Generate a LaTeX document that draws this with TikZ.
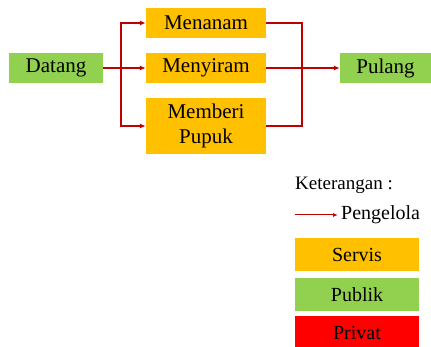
\documentclass[tikz,border=0pt]{standalone}
\usepackage{fontspec}
\setmainfont{Liberation Serif}
\usetikzlibrary{arrows.meta}

\begin{document}
\begin{tikzpicture}[x=1pt,y=-1pt]
  % Colors
  \definecolor{serviscolor}{HTML}{FFC000}
  \definecolor{publikcolor}{HTML}{92D050}
  \definecolor{privatcolor}{HTML}{FF0000}
  \definecolor{flowcolor}{HTML}{C00000}

  % Styles
  \tikzstyle{box}=[inner sep=0pt,align=center,font=\fontsize{21}{25}\selectfont]
  \tikzstyle{servis}=[box,fill=serviscolor,minimum width=120pt,minimum height=30pt]
  \tikzstyle{publik}=[box,fill=publikcolor,minimum height=30pt]
  \tikzstyle{legend box}=[inner sep=0pt,minimum width=124pt,minimum height=33pt,font=\fontsize{20}{22}\selectfont]
  \tikzstyle{flow}=[draw=flowcolor,line width=1.3pt]
  \tikzstyle{flow arrow}=[flow,-{Latex[length=6pt,width=5pt]}]

  \useasboundingbox (0,0) rectangle (431,347);

  % Process
  \node[publik,minimum width=94pt] (datang) at (56,68) {Datang};
  \node[servis] (menanam) at (206,23) {Menanam};
  \node[servis] (menyiram) at (206,68) {Menyiram};
  \node[servis,minimum height=56pt] (pupuk) at (206,126) {Memberi\\Pupuk};
  \node[publik,minimum width=91pt] (pulang) at (385.5,68) {Pulang};

  \coordinate (split) at (121,68);
  \coordinate (join) at (302,68);

  \draw[flow] (datang.east) -- (split);
  \draw[flow arrow] (split) |- (menanam.west);
  \draw[flow arrow] (split) -- (menyiram.west);
  \draw[flow arrow] (split) |- (pupuk.west);

  \draw[flow] (menanam.east) -| (join);
  \draw[flow] (pupuk.east) -| (join);
  \draw[flow arrow] (menyiram.east) -- (pulang.west);

  % Legend
  \node[anchor=west,inner sep=0pt,font=\fontsize{19}{21}\selectfont] (keterangan) at (295,185) {Keterangan :};
  \coordinate (legend start) at (295,215);
  \coordinate (legend end) at (338,215);
  \draw[flow,line width=1pt,-{Latex[length=5pt,width=4pt]}] (legend start) -- (legend end);
  \node[anchor=west,inner sep=0pt,font=\fontsize{20}{22}\selectfont] (pengelola) at (341,215) {Pengelola};

  \node[legend box,fill=serviscolor] (servis) at (357,255) {Servis};
  \node[legend box,fill=publikcolor] (publik) at (357,294.5) {Publik};
  \node[legend box,fill=privatcolor] (privat) at (357,332.5) {Privat};
\end{tikzpicture}
\end{document}
